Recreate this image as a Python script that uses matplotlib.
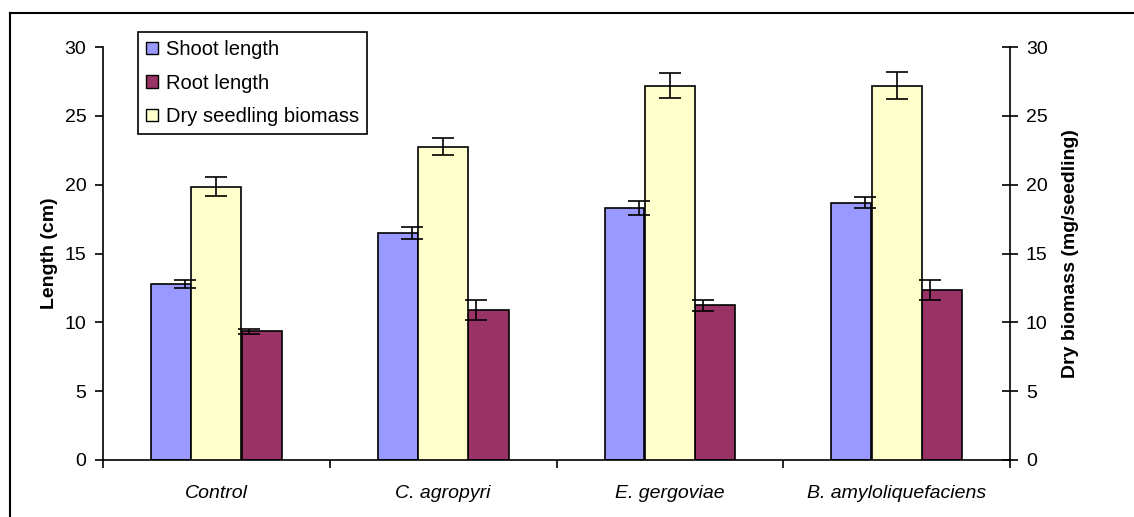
import matplotlib.pyplot as plt
from matplotlib.lines import Line2D
from matplotlib.patches import Patch

plt.rcParams['font.family'] = ['Liberation Sans', 'DejaVu Sans']

categories = ['Control', 'C. agropyri', 'E. gergoviae', 'B. amyloliquefaciens']
shoot = [12.8, 16.5, 18.3, 18.7]
shoot_err = [0.3, 0.45, 0.5, 0.4]
root = [9.35, 10.9, 11.25, 12.35]
root_err = [0.2, 0.75, 0.4, 0.7]
biomass = [19.85, 22.75, 27.2, 27.2]
biomass_err = [0.7, 0.62, 0.9, 1.0]

shoot_color = '#9999FF'
root_color = '#993366'
biomass_color = '#FFFFCC'

W, H = 1134, 517
fig = plt.figure(figsize=(W / 100, H / 100), dpi=100)
ax = fig.add_axes([103 / W, 1 - 460 / H, 907 / W, 413 / H])
ax2 = ax.twinx()

centers = [i + 0.5 for i in range(len(categories))]
xs = [c - 0.2 for c in centers]
xr = [c + 0.2 for c in centers]

ax.bar(xs, shoot, width=0.175, color=shoot_color, edgecolor='black', linewidth=1.2, zorder=2)
ax.bar(xr, root, width=0.178, color=root_color, edgecolor='black', linewidth=1.2, zorder=2)
ax2.bar(centers, biomass, width=0.22, color=biomass_color, edgecolor='black', linewidth=1.2, zorder=2)

# Excel places the primary-axis error bars off the bar centres
ax2.errorbar([c - 0.138 for c in centers], shoot, yerr=shoot_err, fmt='none', ecolor='black',
             elinewidth=1.2, capsize=8, capthick=1.2, zorder=3)
ax2.errorbar([c + 0.145 for c in centers], root, yerr=root_err, fmt='none', ecolor='black',
             elinewidth=1.2, capsize=8, capthick=1.2, zorder=3)
ax2.errorbar(centers, biomass, yerr=biomass_err, fmt='none', ecolor='black',
             elinewidth=1.2, capsize=8, capthick=1.2, zorder=3)

for a in (ax, ax2):
    a.set_xlim(0, 4)
    a.set_ylim(0, 30)
    a.set_yticks(range(0, 31, 5))
    a.spines['top'].set_visible(False)
    for s in a.spines.values():
        s.set_linewidth(1.2)

ax.spines['right'].set_visible(False)
ax2.spines['left'].set_visible(False)
ax2.spines['bottom'].set_visible(False)

ax.set_xticks([0, 1, 2, 3, 4])
ax.set_xticklabels([])
ax.set_xticks(centers, minor=True)
ax.set_xticklabels(categories, minor=True, fontstyle='italic', fontsize=14)
ax.tick_params(axis='x', which='major', direction='out', length=6, width=1.2)
ax.tick_params(axis='x', which='minor', length=0, pad=18)
ax.tick_params(axis='y', direction='out', length=6, width=1.2, labelsize=14, pad=6)
ax2.tick_params(axis='y', direction='inout', length=11, width=1.2, labelsize=14, pad=6)

ax.set_ylabel('Length (cm)', fontsize=14, fontweight='bold', labelpad=5)
ax2.set_ylabel('Dry biomass (mg/seedling)', fontsize=14, fontweight='bold', labelpad=10)

handles = [Patch(facecolor=shoot_color, edgecolor='black', linewidth=1),
           Patch(facecolor=root_color, edgecolor='black', linewidth=1),
           Patch(facecolor=biomass_color, edgecolor='black', linewidth=1)]
leg = ax2.legend(handles, ['Shoot length', 'Root length', 'Dry seedling biomass'],
                 loc='upper left', bbox_to_anchor=(138 / W, 1 - 32 / H), bbox_transform=fig.transFigure,
                 borderaxespad=0, fontsize=14.5, fancybox=False, framealpha=1, edgecolor='black',
                 handlelength=0.6, handleheight=0.6, handletextpad=0.4, labelspacing=0.72,
                 borderpad=0.4)
leg.get_frame().set_linewidth(1.2)

# outer chart border (only top and left visible in the crop)
fig.add_artist(Line2D([10 / W, 1], [1 - 13 / H, 1 - 13 / H], color='black', linewidth=1.5))
fig.add_artist(Line2D([10 / W, 10 / W], [0, 1 - 13 / H], color='black', linewidth=1.5))

fig.savefig('out.png', dpi=100)
